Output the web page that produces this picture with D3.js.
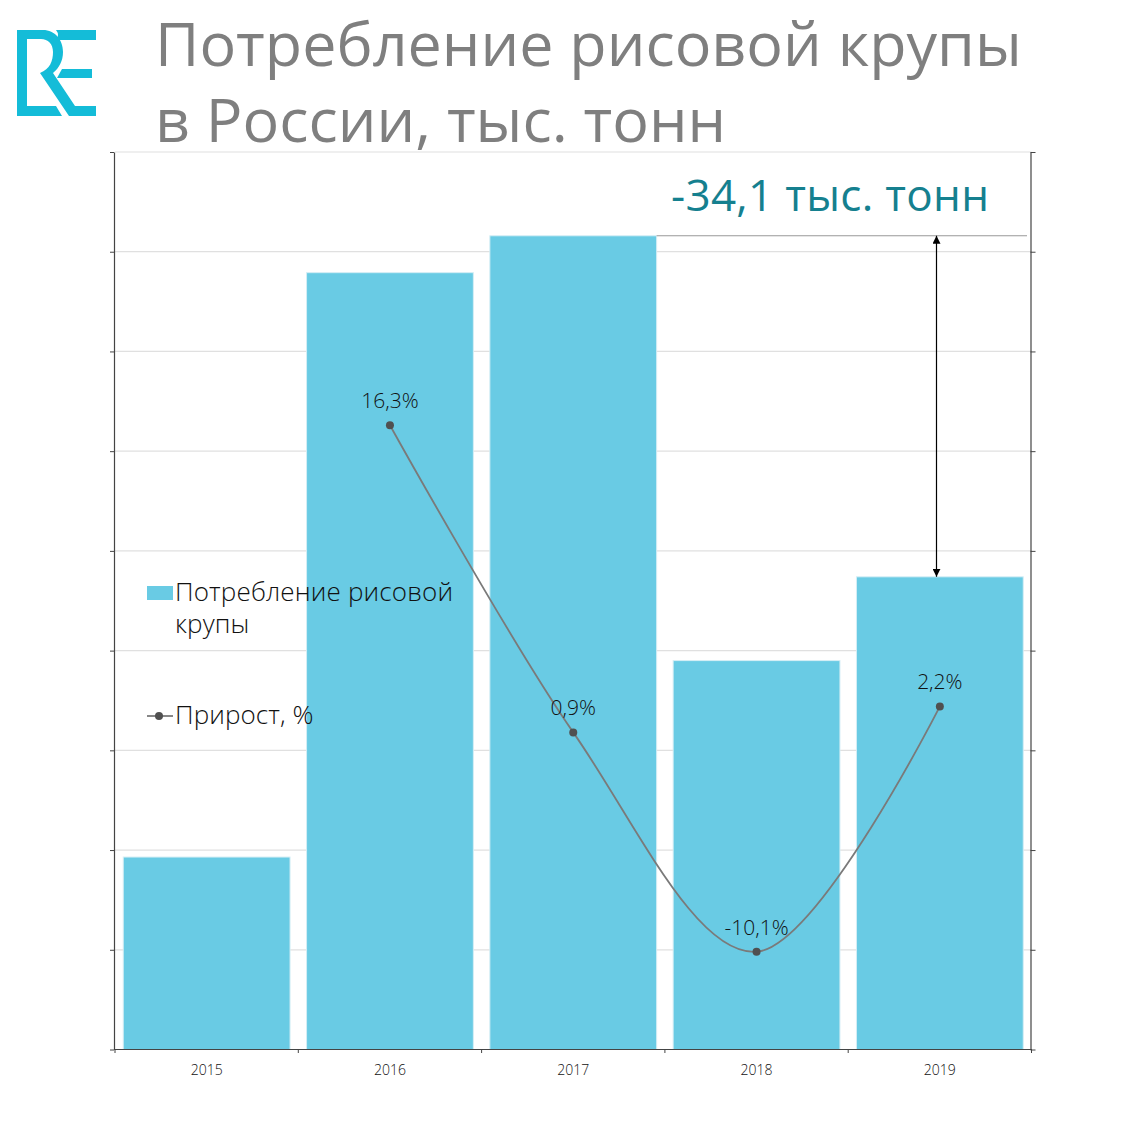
<!DOCTYPE html>
<html><head><meta charset="utf-8">
<script src="https://d3js.org/d3.v7.min.js"></script>
<style>html,body{margin:0;padding:0;background:#fff}svg{display:block}text{font-family:"Open Sans","Noto Sans",sans-serif}</style>
</head><body><svg id="c" width="1134" height="1134"></svg>
<script>
const years = ["2015","2016","2017","2018","2019"];
const consumption = [359.3, 417.9, 421.6, 379.0, 387.4];
const growthYears = ["2016","2017","2018","2019"];
const growth = [16.3, 0.9, -10.1, 2.2];
const growthLabels = ["16,3%","0,9%","-10,1%","2,2%"];
const titleLines = ["Потребление рисовой крупы","в России, тыс. тонн"];
const legendBar = ["Потребление рисовой","крупы"];
const legendLine = "Прирост, %";
const delta = "-34,1 тыс. тонн";

const svg = d3.select("#c");
const L=115,R=1031.5,T=152,B=1049.5;
const x = d3.scaleBand().domain(years).range([L,R]).paddingInner(0.09).paddingOuter(0.045);
const y = d3.scaleLinear().domain([340,430]).range([B,T]);
const y2 = d3.scaleLinear().domain([-15,30]).range([B,T]);
const cx = d => x(d)+x.bandwidth()/2;
const gridVals = d3.range(340,431,10);

// gridlines
svg.append("g").selectAll("line").data(gridVals).join("line")
  .attr("x1",L).attr("x2",R).attr("y1",d=>y(d)).attr("y2",d=>y(d))
  .attr("stroke","#e0e0e0").attr("stroke-width",1.2);

// bars
svg.append("g").selectAll("rect").data(years).join("rect")
  .attr("x",d=>x(d)).attr("width",x.bandwidth())
  .attr("y",(d,i)=>y(consumption[i])).attr("height",(d,i)=>B-y(consumption[i]))
  .attr("fill","#69cbe4").attr("stroke","#d5eef5").attr("stroke-width",1);

// axes
const styleAxis = g => { g.select(".domain").attr("stroke","#444").attr("stroke-width",1.2);
  g.selectAll(".tick line").attr("stroke","#444").attr("stroke-width",1); };
svg.append("g").attr("transform",`translate(${L-1},0)`)
  .call(d3.axisLeft(y).tickValues(gridVals).tickSize(4).tickSizeOuter(0).tickFormat("")).call(styleAxis);
svg.append("g").attr("transform",`translate(${R-1},0)`)
  .call(d3.axisRight(y).tickValues(gridVals).tickSize(5).tickSizeOuter(0).tickFormat("")).call(styleAxis);
const edges = d3.scaleLinear().domain([0,years.length]).range([L,R]);
svg.append("g").attr("transform",`translate(-0.5,${B-0.5})`)
  .call(d3.axisBottom(edges).tickValues(d3.range(0,years.length+1)).tickSize(4).tickSizeOuter(0).tickFormat("")).call(styleAxis);
svg.append("g").selectAll("text").data(years).join("text")
  .attr("x",cx).attr("y",1075).attr("text-anchor","middle")
  .attr("font-size",14).attr("font-weight",300).attr("fill","#111").text(d=>d);

// line
const line = d3.line().x(d=>cx(d[0])).y(d=>y2(d[1])).curve(d3.curveCatmullRom.alpha(0));
const pts = growthYears.map((d,i)=>[d,growth[i]]);
svg.append("path").attr("d",line(pts)).attr("fill","none").attr("stroke","#7a7a7a").attr("stroke-width",1.8);
svg.append("g").selectAll("circle").data(pts).join("circle")
  .attr("cx",d=>cx(d[0])).attr("cy",d=>y2(d[1])).attr("r",4).attr("fill","#505050");
svg.append("g").selectAll("text").data(pts).join("text")
  .attr("x",d=>cx(d[0])).attr("y",d=>y2(d[1])-17).attr("text-anchor","middle")
  .attr("font-size",21).attr("font-weight",300).attr("fill","#111").text((d,i)=>growthLabels[i]);

// annotation
const x17 = x("2017")+x.bandwidth();
svg.append("line").attr("x1",x17).attr("x2",1027).attr("y1",y(421.6)).attr("y2",y(421.6)).attr("stroke","#999").attr("stroke-width",1.2);
const defs = svg.append("defs");
defs.append("marker").attr("id","ah").attr("viewBox","0 0 8 8").attr("refX",8).attr("refY",4)
  .attr("markerWidth",8).attr("markerHeight",8).attr("orient","auto-start-reverse").attr("markerUnits","userSpaceOnUse")
  .append("path").attr("d","M0,0L8,4L0,8Z").attr("fill","#000");
svg.append("line").attr("x1",936.5).attr("x2",936.5).attr("y1",y(421.6)).attr("y2",y(387.4))
  .attr("stroke","#000").attr("stroke-width",1.2).attr("marker-start","url(#ah)").attr("marker-end","url(#ah)");
svg.append("text").attr("x",671).attr("y",211).attr("font-size",44).attr("font-weight",400)
  .attr("fill","#15808f").attr("letter-spacing",0.3).text(delta);

// title
svg.append("g").selectAll("text").data(titleLines).join("text")
  .attr("x",155).attr("y",(d,i)=>66+i*76).attr("font-size",61).attr("font-weight",400)
  .attr("fill","#7f7f7f").attr("letter-spacing",0).text(d=>d);

// legend
svg.append("rect").attr("x",147).attr("y",586).attr("width",26).attr("height",14).attr("fill","#69cbe4");
svg.append("g").selectAll("text").data(legendBar).join("text")
  .attr("x",175).attr("y",(d,i)=>601+i*32).attr("font-size",26).attr("font-weight",300).attr("fill","#111")
  .attr("letter-spacing",.15).text(d=>d);
svg.append("line").attr("x1",147).attr("x2",173).attr("y1",716).attr("y2",716).attr("stroke","#7a7a7a").attr("stroke-width",1.8);
svg.append("circle").attr("cx",159).attr("cy",716).attr("r",4).attr("fill","#505050");
svg.append("text").attr("x",175).attr("y",724).attr("font-size",26).attr("font-weight",300).attr("fill","#111")
  .attr("letter-spacing",.1).text(legendLine);

// logo
const logo = svg.append("g").attr("fill","#14bcd8");
logo.append("path").attr("d","M17,30H43C55,30 63,40 63,52C63,61 59,68 53,73L75,106H96V116H69L40,73C50,69 53,61 53,52C53,44 48,39 41,39H27V106H56L62,116H17Z");
logo.append("path").attr("d","M56,30H96V40H56Q60,35 56,30Z");
logo.append("path").attr("d","M62,69H92V78H57Z");
</script></body></html>
